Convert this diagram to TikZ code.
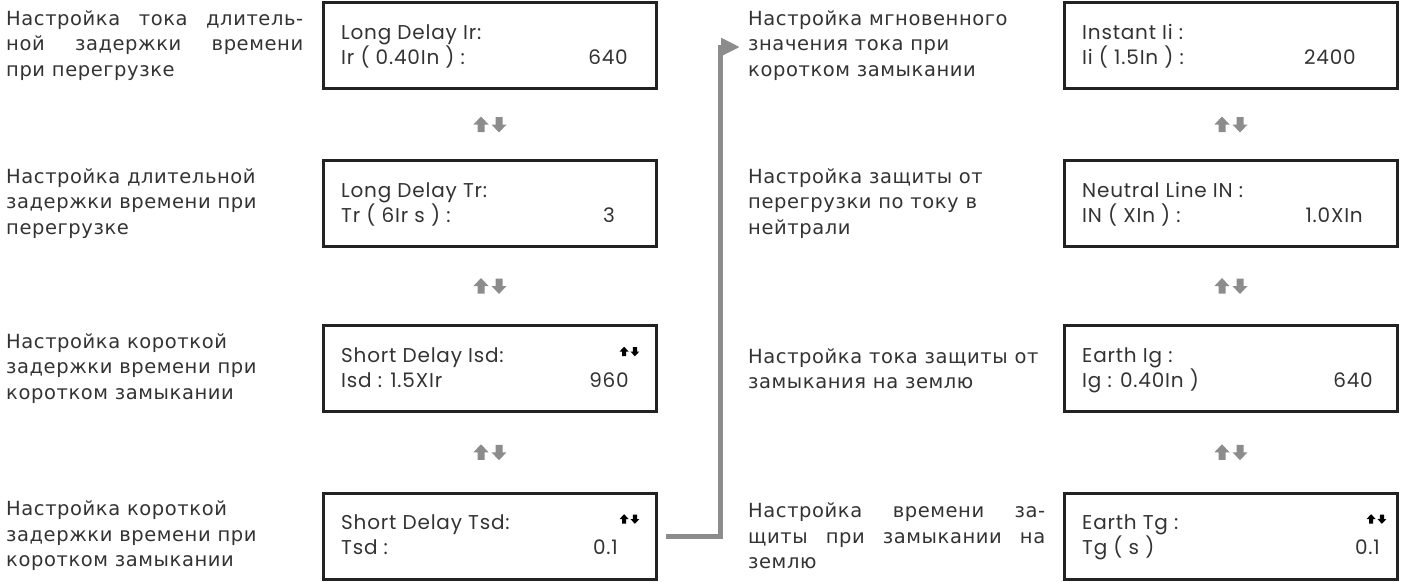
\documentclass[tikz,border=0pt]{standalone}
\usepackage{fontspec}
\setmainfont[LetterSpace=3]{DejaVu Sans}
\newfontfamily\lcdfont[LetterSpace=4]{Poppins}
\usetikzlibrary{positioning, arrows.meta, calc}
\definecolor{arrowgray}{HTML}{8C8C8C}
\definecolor{framegray}{HTML}{222222}
\definecolor{textgray}{HTML}{333333}
\tikzset{
  panel/.style={draw=framegray, line width=3pt, minimum width=333pt, minimum height=86pt, inner sep=0pt},
  lcd/.style={anchor=base west, inner sep=0pt, text=textgray, font=\lcdfont\fontsize{20}{22}\selectfont},
  lcdval/.style={lcd, anchor=base east},
  descr/.style={anchor=west, inner sep=0pt, align=left, text=textgray, font=\fontsize{19.5}{25.5}\selectfont},
  descrj/.style={descr, text width=297pt, align=justify},
  updown/.pic={
    \fill (-9,8) -- (-16.5,0) -- (-12.5,0) -- (-12.5,-7.5) -- (-5.5,-7.5) -- (-5.5,0) -- (-1.5,0) -- cycle;
    \fill (9,-8) -- (1.5,0) -- (5.5,0) -- (5.5,7.5) -- (12.5,7.5) -- (12.5,0) -- (16.5,0) -- cycle;
  }
}
\begin{document}
\begin{tikzpicture}[x=1pt, y=1pt]
	\useasboundingbox (0,0) rectangle (1405,-581);
	% left column: panels
	\node[panel] (ir) at (490,-45.5) {};
	\node[panel] (tr) at (490,-203.5) {};
	\node[panel] (isd) at (490,-368.5) {};
	\node[panel] (tsd) at (490,-536) {};
	\node[lcd] (ir-a) at ([shift={(19,6.5)}]ir.west) {Long Delay Ir:};
	\node[lcd] (ir-b) at ([shift={(19,-18.5)}]ir.west) {Ir ( 0.40In ) :};
	\node[lcdval] (ir-v) at (628,0 |- ir-b.base) {640};
	\node[lcd] (tr-a) at ([shift={(19,6.5)}]tr.west) {Long Delay Tr:};
	\node[lcd] (tr-b) at ([shift={(19,-18.5)}]tr.west) {Tr ( 6Ir s ) :};
	\node[lcdval] (tr-v) at (615,0 |- tr-b.base) {3};
	\node[lcd] (isd-a) at ([shift={(19,6.5)}]isd.west) {Short Delay Isd:};
	\node[lcd] (isd-b) at ([shift={(19,-18.5)}]isd.west) {Isd : 1.5XIr};
	\node[lcdval] (isd-v) at (629,0 |- isd-b.base) {960};
	\node[lcd] (tsd-a) at ([shift={(19,6.5)}]tsd.west) {Short Delay Tsd:};
	\node[lcd] (tsd-b) at ([shift={(19,-18.5)}]tsd.west) {Tsd :};
	\node[lcdval] (tsd-v) at (618,0 |- tsd-b.base) {0.1};
	% left column: descriptions
	\node[descrj] (d-ir) at (6,0 |- ir) {Настройка тока длитель-\linebreak ной задержки времени\linebreak при перегрузке};
	\node[descr] (d-tr) at (6,0 |- tr) {Настройка длительной\\задержки времени при\\перегрузке};
	\node[descr] (d-isd) at (6,0 |- isd) {Настройка короткой\\задержки времени при\\коротком замыкании};
	\node[descr] (d-tsd) at (6,0 |- tsd) {Настройка короткой\\задержки времени при\\коротком замыкании};
	% right column: panels
	\node[panel] (ii) at (1231,-45.5) {};
	\node[panel] (in) at (1231,-203.5) {};
	\node[panel] (ig) at (1231,-368.5) {};
	\node[panel] (tg) at (1231,-536) {};
	\node[lcd] (ii-a) at ([shift={(19,6.5)}]ii.west) {Instant Ii :};
	\node[lcd] (ii-b) at ([shift={(19,-18.5)}]ii.west) {Ii ( 1.5In ) :};
	\node[lcdval] (ii-v) at (1356,0 |- ii-b.base) {2400};
	\node[lcd] (in-a) at ([shift={(19,6.5)}]in.west) {Neutral Line IN :};
	\node[lcd] (in-b) at ([shift={(19,-18.5)}]in.west) {IN ( XIn ) :};
	\node[lcdval] (in-v) at (1363,0 |- in-b.base) {1.0XIn};
	\node[lcd] (ig-a) at ([shift={(19,6.5)}]ig.west) {Earth Ig :};
	\node[lcd] (ig-b) at ([shift={(19,-18.5)}]ig.west) {Ig : 0.40In )};
	\node[lcdval] (ig-v) at (1373,0 |- ig-b.base) {640};
	\node[lcd] (tg-a) at ([shift={(19,6.5)}]tg.west) {Earth Tg :};
	\node[lcd] (tg-b) at ([shift={(19,-18.5)}]tg.west) {Tg ( s )};
	\node[lcdval] (tg-v) at (1380,0 |- tg-b.base) {0.1};
	% right column: descriptions
	\node[descr] (d-ii) at (748,0 |- ii) {Настройка мгновенного\\значения тока при\\коротком замыкании};
	\node[descr] (d-in) at (748,0 |- in) {Настройка защиты от\\перегрузки по току в\\нейтрали};
	\node[descr] (d-ig) at (748,0 |- ig) {Настройка тока защиты от\\замыкания на землю};
	\node[descrj] (d-tg) at (748,0 |- tg) {Настройка времени за-\linebreak щиты при замыкании на\linebreak землю};
	% up/down marks
	\path ($(ir.south)!0.5!(tr.north)$) pic[fill=arrowgray] {updown};
	\path ($(tr.south)!0.5!(isd.north)$) pic[fill=arrowgray] {updown};
	\path ($(isd.south)!0.5!(tsd.north)$) pic[fill=arrowgray] {updown};
	\path ($(ii.south)!0.5!(in.north)$) pic[fill=arrowgray] {updown};
	\path ($(in.south)!0.5!(ig.north)$) pic[fill=arrowgray] {updown};
	\path ($(ig.south)!0.5!(tg.north)$) pic[fill=arrowgray] {updown};
	\path ([shift={(-28.5,-27.5)}]isd.north east) pic[fill=black, scale=0.6] {updown};
	\path ([shift={(-28.5,-27.5)}]tsd.north east) pic[fill=black, scale=0.6] {updown};
	\path ([shift={(-22.5,-27.5)}]tg.north east) pic[fill=black, scale=0.6] {updown};
	% link to the right column
	\coordinate (bend) at (712,0);
	\draw[arrowgray, line width=5pt, -{Triangle[length=19pt, width=17pt]}] ([xshift=8pt]tsd.east) -- ([xshift=8pt]tsd.east -| bend) |- ([shift={(-8,-1.5)}]d-ii.west);
\end{tikzpicture}
\end{document}
